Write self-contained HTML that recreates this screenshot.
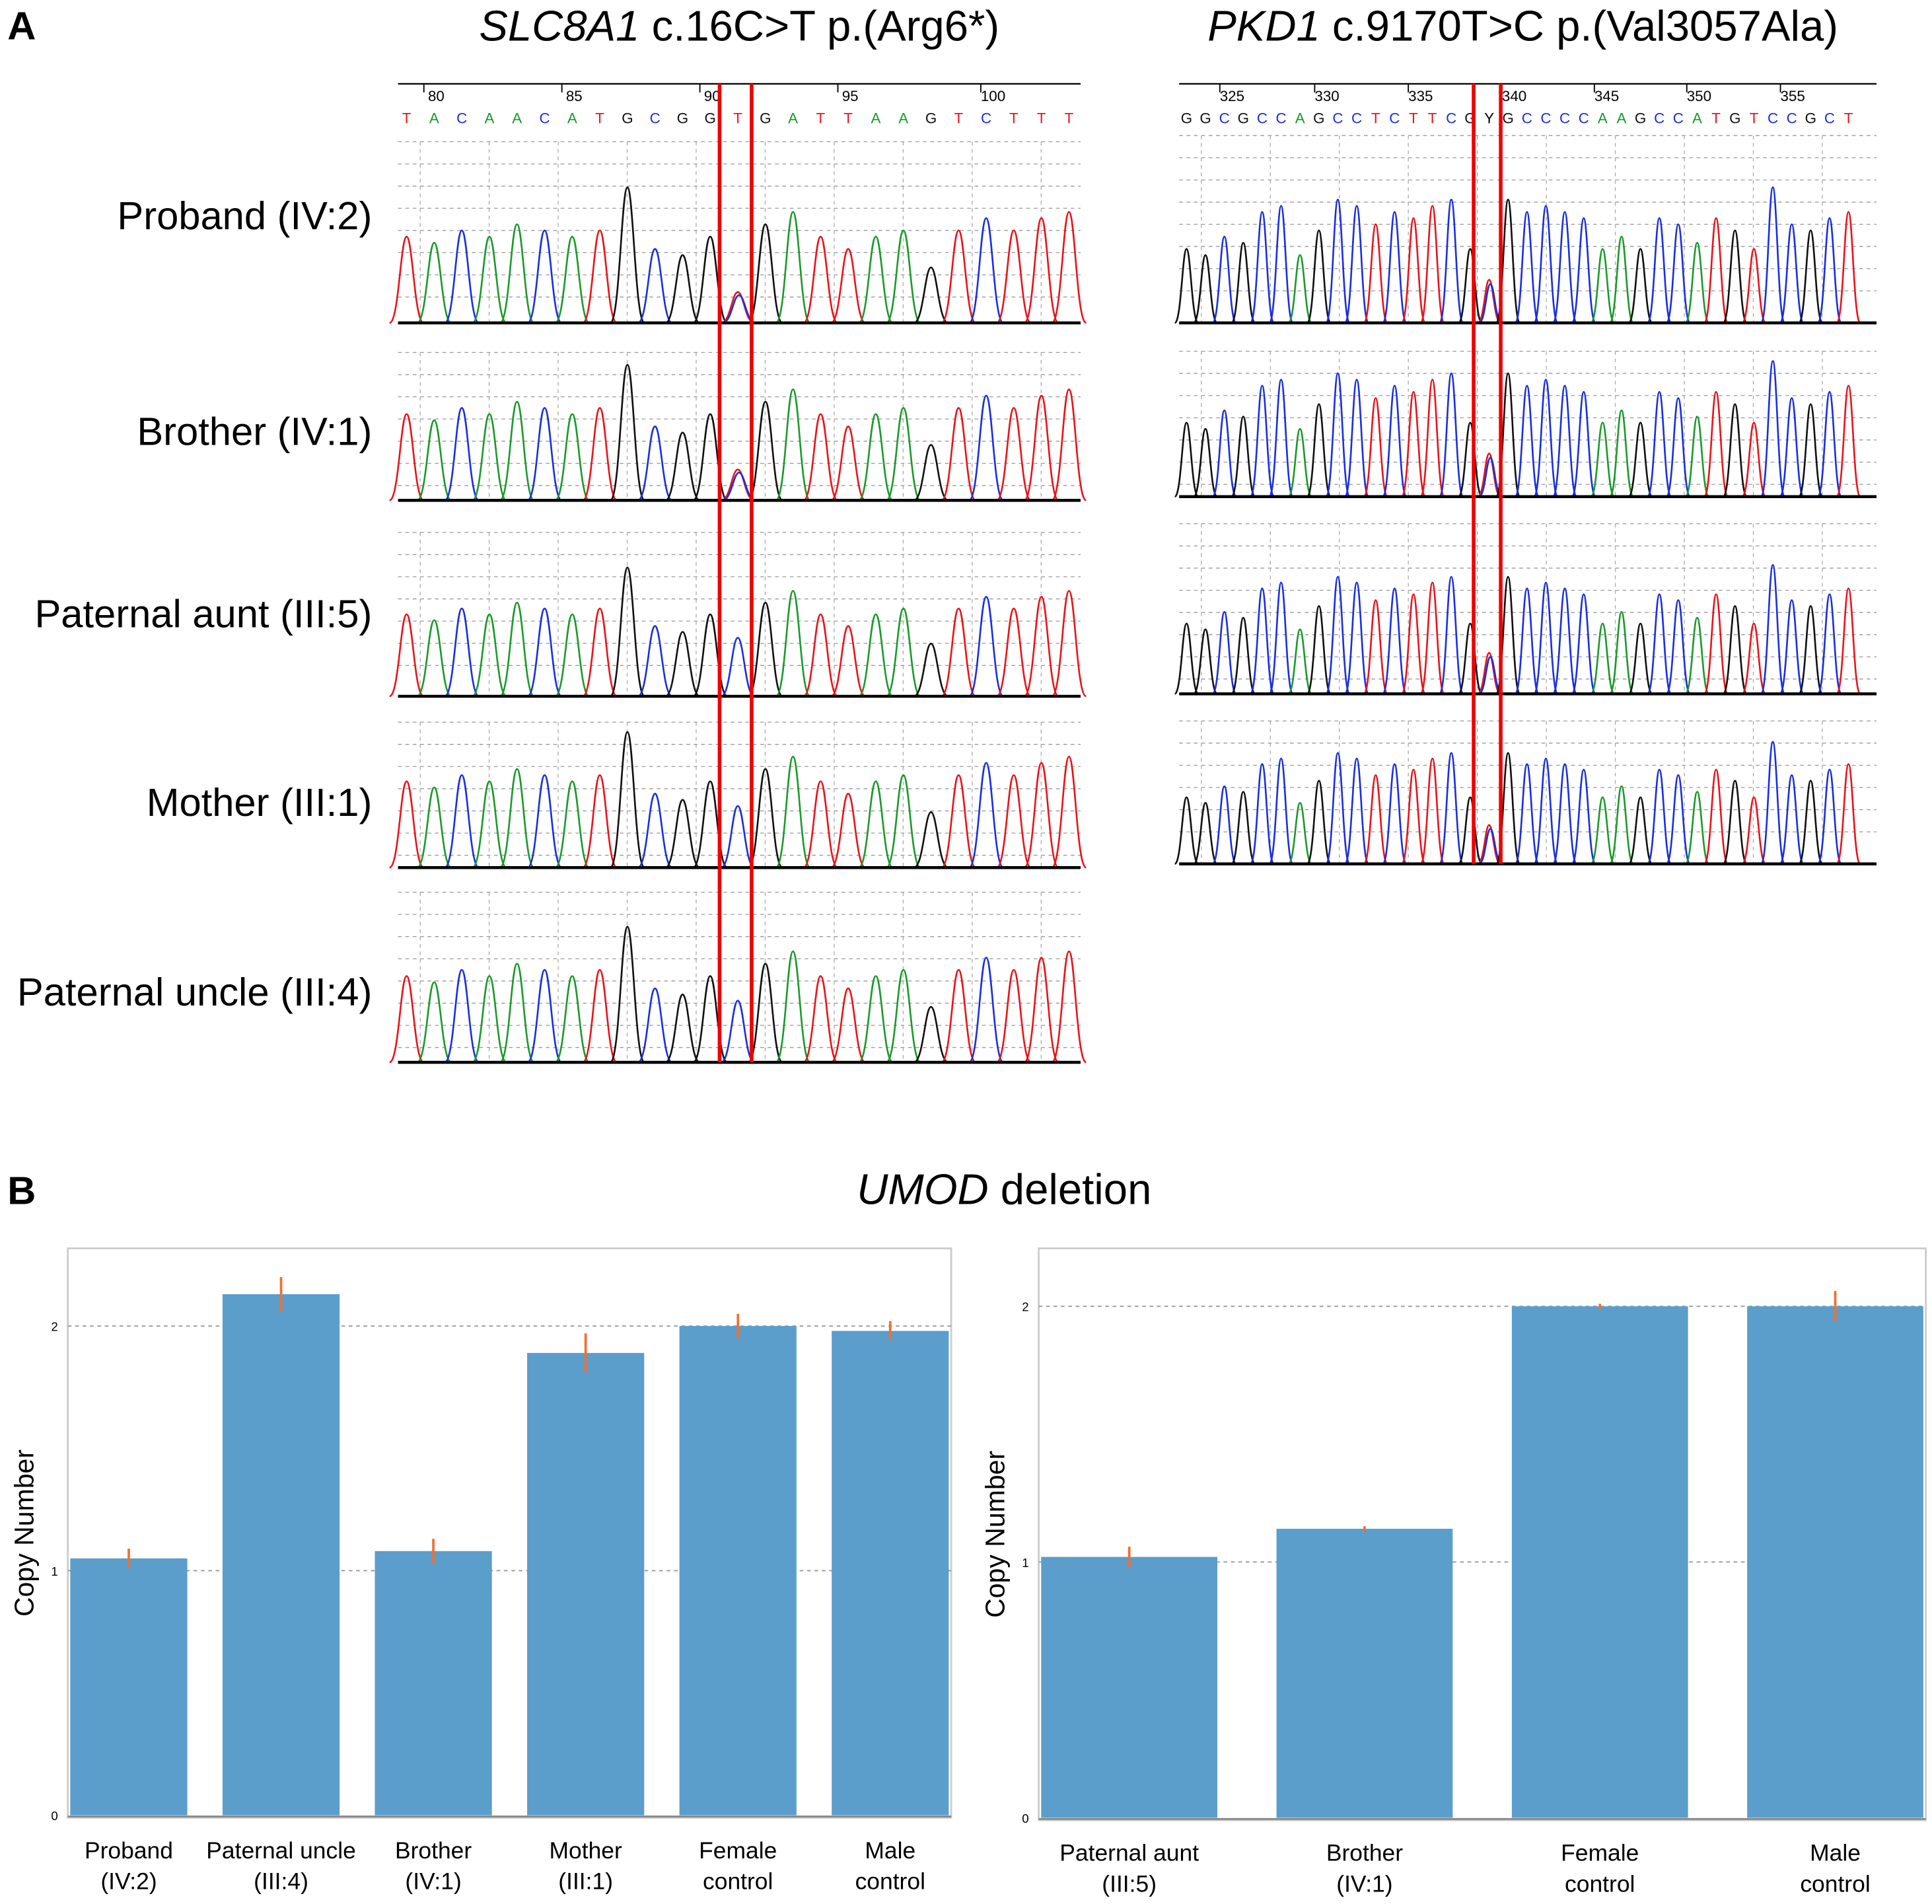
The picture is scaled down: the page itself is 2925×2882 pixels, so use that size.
<!DOCTYPE html>
<html><head><meta charset="utf-8"><style>
html,body{margin:0;padding:0;background:#fff}
svg{display:block}
text{font-family:"Liberation Sans",sans-serif}
</style></head><body>
<svg id="fig" xmlns="http://www.w3.org/2000/svg" width="2925" height="2882" viewBox="0 0 1568 1545">
<rect width="1568" height="1545" fill="#fff"/>
<text x="6" y="32" font-size="32" font-weight="bold">A</text>
<text x="6" y="977" font-size="32" font-weight="bold">B</text>
<text x="600" y="33" font-size="35" text-anchor="middle"><tspan font-style="italic">SLC8A1</tspan> c.16C&gt;T p.(Arg6*)</text>
<text x="1236" y="33" font-size="35" text-anchor="middle"><tspan font-style="italic">PKD1</tspan> c.9170T&gt;C p.(Val3057Ala)</text>
<text x="815" y="977" font-size="35" text-anchor="middle"><tspan font-style="italic">UMOD</tspan> deletion</text>
<g id="chromL"></g>
<g id="chromR"></g>
<g id="barsL"></g>
<g id="barsR"></g>
</svg>
<script>
// ---------- chromatogram data ----------
const leftSeq = "TACAACATGCGGTGATTAAGTCTTT";
const leftHeights = [70,65,75,70,80,75,70,75,110,60,55,70,25,80,90,70,60,70,75,45,75,85,75,85,90];
const leftRows = ["Proband (IV:2)","Brother (IV:1)","Paternal aunt (III:5)","Mother (III:1)","Paternal uncle (III:4)"];
const leftVariantHet = [true,true,false,false,false];
const leftPosLabels = ["80","85","90","95","100"];
const rightSeq = "GGCGCCAGCCTCTTCGYGCCCCAAGCCATGTCCGCT";
const rightHeights = [60,55,70,65,90,95,55,75,100,95,80,90,85,95,100,60,35,100,90,95,90,85,60,70,60,85,80,65,85,75,60,110,80,75,85,90];
const rightPosLabels = ["325","330","335","340","345","350","355"];
// ---------- bar data ----------
const leftCats = [["Proband","(IV:2)"],["Paternal uncle","(III:4)"],["Brother","(IV:1)"],["Mother","(III:1)"],["Female","control"],["Male","control"]];
const leftVals = [1.05,2.13,1.08,1.89,2.0,1.98];
const leftErr = [0.04,0.07,0.05,0.08,0.05,0.04];
const rightCats = [["Paternal aunt","(III:5)"],["Brother","(IV:1)"],["Female","control"],["Male","control"]];
const rightVals = [1.02,1.13,2.0,2.0];
const rightErr = [0.04,0.01,0.01,0.06];
const yTicks = [0,1,2];

const NS="http://www.w3.org/2000/svg";
function mk(tag,attrs,parent){const e=document.createElementNS(NS,tag);for(const k in attrs)e.setAttribute(k,attrs[k]);parent.appendChild(e);return e;}
const col={T:"#e8141b",A:"#1a9a2a",C:"#1a2fe0",G:"#111"};
function peak(g,x,base,h,w,c){
  const p=mk("path",{d:`M${x-w},${base} C${x-w*0.45},${base} ${x-w*0.35},${base-h} ${x},${base-h} C${x+w*0.35},${base-h} ${x+w*0.45},${base} ${x+w},${base}`,fill:"none",stroke:c,"stroke-width":1.4},g);
  
  
}
function chrom(gid,seq,heights,x0,x1,px0,step,baselines,rowTop,labels,labelXs,redX,variantIdx,hetFlags,rowScale){
  const g=document.getElementById(gid);
  mk("line",{x1:x0,x2:x1,y1:68,y2:68,stroke:"#000","stroke-width":1.2},g);
  labels.forEach((l,i)=>{const t=mk("text",{x:labelXs[i],y:82,"font-size":12,"text-anchor":"middle"},g);t.textContent=l;
    
    
    mk("line",{x1:labelXs[i]-10,x2:labelXs[i]-10,y1:68,y2:75,stroke:"#000"},g);});
  for(let i=0;i<seq.length;i++){const x=px0+i*step;const t=mk("text",{x:x,y:100,"font-size":12,"text-anchor":"middle",fill:col[seq[i]]||"#000"},g);t.textContent=seq[i];
    
    }
  baselines.forEach((b,r)=>{
    const top=rowTop[r];
    for(let y=top;y<b-8;y+=18) mk("line",{x1:x0,x2:x1,y1:y,y2:y,stroke:"#999","stroke-dasharray":"3,3","stroke-width":0.7},g);
    for(let x=x0+18;x<x1;x+=56) mk("line",{x1:x,x2:x,y1:top,y2:b,stroke:"#aaa","stroke-dasharray":"3,3","stroke-width":0.7},g);
    for(let i=0;i<seq.length;i++){
      const x=px0+i*step; const h=heights[i]*rowScale[r];
      if(i===variantIdx){
        if(hetFlags[r]){peak(g,x,b,h,step*0.6,col.T);peak(g,x+1,b,h*0.9,step*0.6,col.C);}
        else peak(g,x,b,50*rowScale[r],step*0.6,col.C);
      } else peak(g,x,b,h,step*0.62,col[seq[i]]||"#111");
    }
    mk("line",{x1:x0,x2:x1,y1:b,y2:b,stroke:"#000","stroke-width":2.4},g);
  });
  redX.forEach(x=>mk("line",{x1:x,x2:x,y1:68,y2:baselines[baselines.length-1],stroke:"#e00","stroke-width":3},g));
}
chrom("chromL",leftSeq,leftHeights,323,877,330,22.4,[262,406,565,704,862],[115,286,432,586,724],
  leftPosLabels,[354,466,578,690,806],[584,610],12,leftVariantHet,[1,1,0.95,1,1]);
chrom("chromR",rightSeq,rightHeights,957,1523,963,15.35,[262,403,563,701],[110,285,425,585],
  rightPosLabels,[1000,1077,1153,1229,1304,1379,1455],[1196,1218],16,[true,true,true,true],[1,1,0.95,0.9]);
const gl=document.getElementById("chromL");
[175,350,498,651,805].forEach((y,i)=>{const t=mk("text",{x:302,y:y+11,"font-size":32,"text-anchor":"end"},gl);t.textContent=leftRows[i];
  
  });

function bars(gid,cats,vals,errs,px0,px1,py0,py1,y0,unit,barW,step,firstX){
  const g=document.getElementById(gid);
  const ys=v=>y0-v*unit;
  mk("rect",{x:px0,y:py0,width:px1-px0,height:py1-py0,fill:"none",stroke:"#ccc","stroke-width":1.5},g);
  yTicks.forEach(v=>{ if(v>0) mk("line",{x1:px0,x2:px1,y1:ys(v),y2:ys(v),stroke:"#999","stroke-dasharray":"3,3"},g);
    const t=mk("text",{x:px0-8,y:ys(v)+4,"font-size":10,"text-anchor":"end"},g);t.textContent=v;
    
    });
  cats.forEach((c,i)=>{
    const x=firstX+i*step;
    const r=mk("rect",{x:x,y:ys(vals[i]),width:barW,height:ys(0)-ys(vals[i]),fill:"#5b9ecb"},g);
    
    
    const cx=x+barW/2;
    mk("line",{x1:cx,x2:cx,y1:ys(vals[i]+errs[i]),y2:ys(vals[i]-errs[i]),stroke:"#f07030","stroke-width":2},g);
    c.forEach((s,k)=>{const t=mk("text",{x:cx,y:py1+33+k*25,"font-size":19,"text-anchor":"middle"},g);t.textContent=s;
      
      });
  });
  mk("line",{x1:px0,x2:px1,y1:y0+1,y2:y0+1,stroke:"#888","stroke-width":1.5},g);
  const yl=mk("text",{x:0,y:0,"font-size":22,"text-anchor":"middle",transform:`translate(${px0-28},${(py0+py1)/2}) rotate(-90)`},g);yl.textContent="Copy Number";
  
  
}
bars("barsL",leftCats,leftVals,leftErr,55,772,1013,1475,1473,198.5,95,123.6,57);
bars("barsR",rightCats,rightVals,rightErr,843,1563,1013,1477,1475,207.5,143,191,845);
</script>
</body></html>
